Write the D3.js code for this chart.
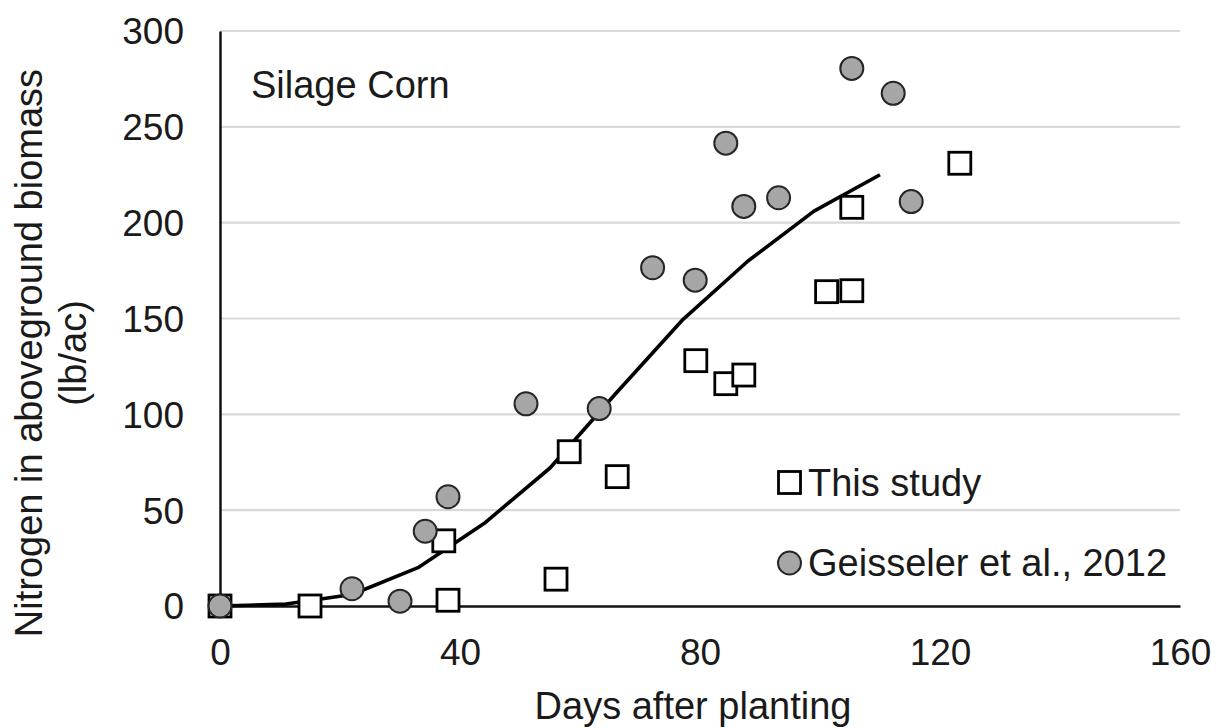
<!DOCTYPE html>
<html>
<head>
<meta charset="utf-8">
<script src="https://cdn.jsdelivr.net/npm/d3@7"></script>
<style>
  html, body { margin: 0; padding: 0; background: #fff; }
  svg { display: block; }
  text { font-family: "Liberation Sans", Arial, sans-serif; fill: #1a1a1a; }
</style>
</head>
<body>
<svg id="chart" width="1216" height="728"></svg>
<script>
// Nitrogen uptake in silage corn (lb/ac) vs days after planting
const studyDays = [0, 15, 38, 37.3, 56, 58.2, 66.2, 79.3, 84.3, 87.3, 101.1, 105.3, 105.3, 123.3];
const studyN    = [0, 0, 3, 34, 14, 80.5, 67.5, 128, 116, 120.5, 164, 164.5, 208, 231];

const geissDays = [0, 22, 30, 34.2, 38, 51, 63.2, 72.1, 79.2, 84.3, 87.3, 93.1, 105.3, 112.2, 115.2];
const geissN    = [0, 9, 2.5, 39, 57, 105.5, 103, 176.5, 170, 241.5, 208.5, 213, 280.5, 267.5, 211];

// Fitted uptake curve
const curveDays = [0, 11, 22, 33, 44, 55, 66, 77, 88, 99, 110];
const curveN    = [0, 1, 6, 20, 43, 72, 111, 149, 180, 206, 225];

const xTicks = [0, 40, 80, 120, 160];
const yTicks = [0, 50, 100, 150, 200, 250, 300];

const seriesNames = ["This study", "Geisseler et al., 2012"];
const panelTitle = "Silage Corn";
const xTitle = "Days after planting";
const yTitleLines = ["Nitrogen in aboveground biomass", "(lb/ac)"];

const svg = d3.select("#chart");
const plotLeft = 220, plotRight = 1180, plotTop = 31, plotBottom = 606;

const x = d3.scaleLinear().domain([0, 160]).range([plotLeft, plotRight]);
const y = d3.scaleLinear().domain([0, 300]).range([plotBottom, plotTop]);

// Horizontal gridlines
svg.append("g")
  .selectAll("line")
  .data(yTicks.filter(d => d > 0))
  .join("line")
  .attr("x1", plotLeft).attr("x2", plotRight)
  .attr("y1", d => y(d)).attr("y2", d => y(d))
  .attr("stroke", "#d9d9d9").attr("stroke-width", 2.2);

// Axes
const yAxis = svg.append("g")
  .attr("transform", `translate(${plotLeft},0)`)
  .call(d3.axisLeft(y).tickValues(yTicks).tickSize(0).tickPadding(36));
yAxis.select(".domain").attr("stroke", "#111").attr("stroke-width", 2.5);
yAxis.selectAll("text").style("font-size", "37px").attr("fill", "#1a1a1a")
  .attr("font-family", "Liberation Sans, Arial, sans-serif").attr("dy", "0.35em");

const xAxis = svg.append("g")
  .attr("transform", `translate(0,${plotBottom})`)
  .call(d3.axisBottom(x).tickValues(xTicks).tickSize(0).tickPadding(0));
xAxis.select(".domain").attr("stroke", "#111").attr("stroke-width", 2.5);
xAxis.selectAll("text").style("font-size", "37px").attr("fill", "#1a1a1a")
  .attr("font-family", "Liberation Sans, Arial, sans-serif")
  .attr("y", 59).attr("dy", 0);

// Fitted curve
svg.append("path")
  .datum(curveDays.map((d, i) => [d, curveN[i]]))
  .attr("fill", "none")
  .attr("stroke", "#000")
  .attr("stroke-width", 3.6)
  .attr("stroke-linejoin", "round")
  .attr("d", d3.line().x(d => x(d[0])).y(d => y(d[1])));

const sq = 22, r = 11.5;

// This study: open squares
svg.append("g")
  .selectAll("rect")
  .data(studyDays.map((d, i) => [d, studyN[i]]))
  .join("rect")
  .attr("x", d => x(d[0]) - sq / 2)
  .attr("y", d => y(d[1]) - sq / 2)
  .attr("width", sq).attr("height", sq)
  .attr("fill", "#fff").attr("stroke", "#000").attr("stroke-width", 2.8);

// Geisseler et al. 2012: grey circles
svg.append("g")
  .selectAll("circle")
  .data(geissDays.map((d, i) => [d, geissN[i]]))
  .join("circle")
  .attr("cx", d => x(d[0]))
  .attr("cy", d => y(d[1]))
  .attr("r", r)
  .attr("fill", "#a6a6a6").attr("stroke", "#262626").attr("stroke-width", 2);

// Panel label
svg.append("text")
  .attr("x", 251).attr("y", 98)
  .style("font-size", "38px")
  .text(panelTitle);

// Axis titles
svg.append("text")
  .attr("x", 693).attr("y", 719)
  .attr("text-anchor", "middle")
  .style("font-size", "38px")
  .text(xTitle);

const yTitle = svg.append("text")
  .attr("transform", "translate(42,353) rotate(-90)")
  .attr("text-anchor", "middle")
  .style("font-size", "38px");
yTitleLines.forEach((t, i) => {
  yTitle.append("tspan").attr("x", 0).attr("y", i * 44).text(t);
});

// Legend
const legend = svg.append("g");
const lx = 789.5;
const legendRows = [
  { name: seriesNames[0], cy: 482.5, shape: "square" },
  { name: seriesNames[1], cy: 563, shape: "circle" }
];
legendRows.forEach(row => {
  if (row.shape === "square") {
    legend.append("rect")
      .attr("x", lx - 11).attr("y", row.cy - 11)
      .attr("width", 22).attr("height", 22)
      .attr("fill", "#fff").attr("stroke", "#000").attr("stroke-width", 2.8);
  } else {
    legend.append("circle")
      .attr("cx", lx).attr("cy", row.cy).attr("r", 11.5)
      .attr("fill", "#a6a6a6").attr("stroke", "#262626").attr("stroke-width", 2);
  }
  legend.append("text")
    .attr("x", 808).attr("y", row.cy + 13)
    .style("font-size", "38px")
    .text(row.name);
});
</script>
</body>
</html>
